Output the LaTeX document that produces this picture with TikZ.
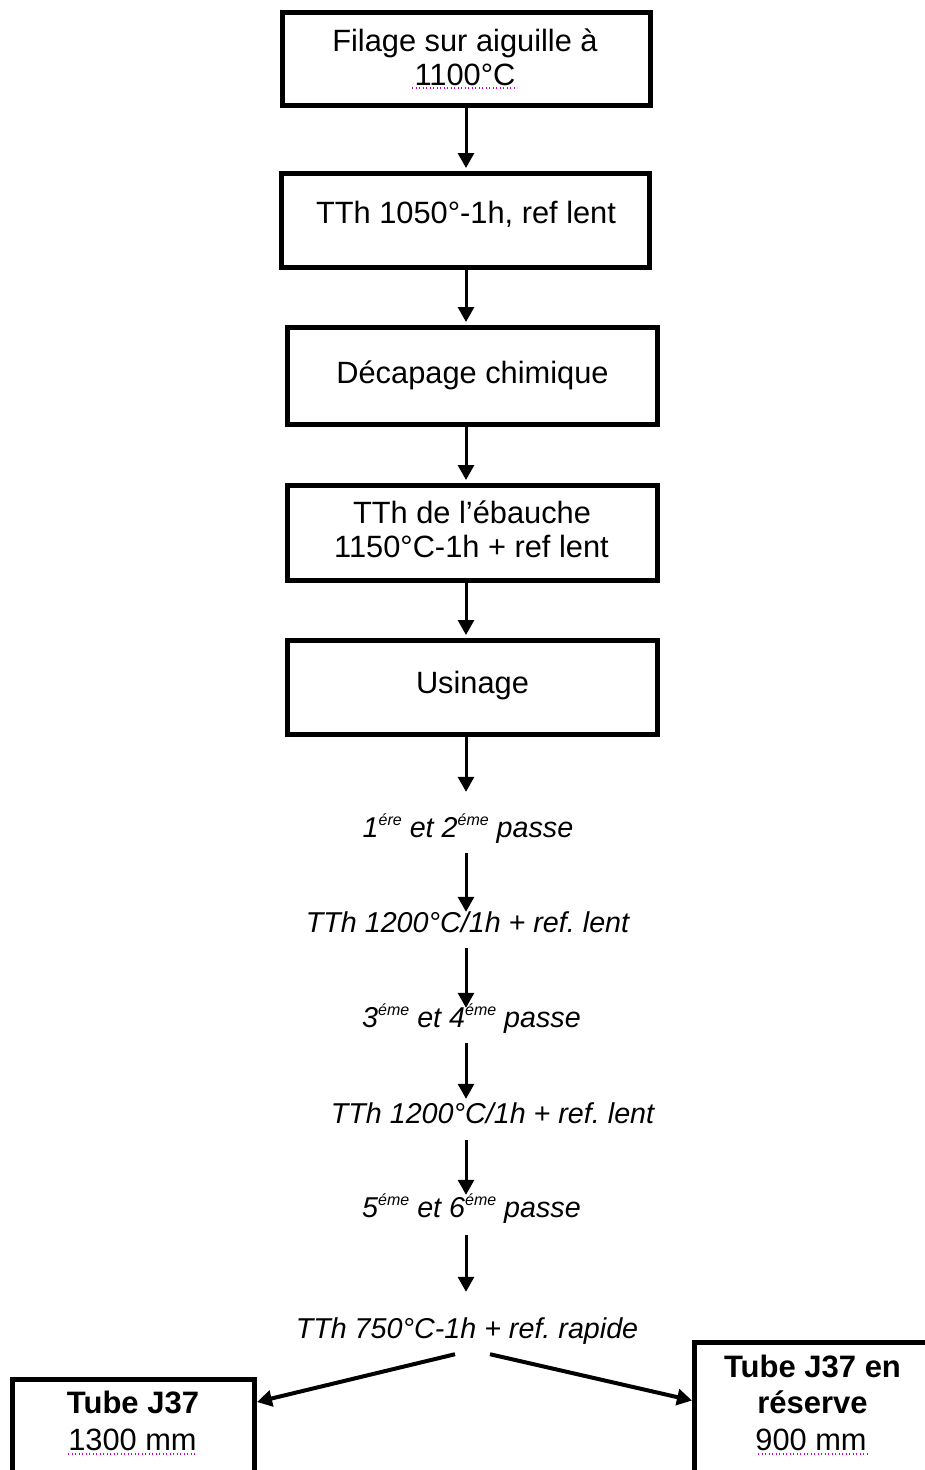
\documentclass[tikz,border=0pt]{standalone}
\usepackage{fontspec}
\setmainfont{Liberation Sans}
\usetikzlibrary{arrows.meta}
\definecolor{spellmark}{RGB}{200,0,200}
\newcommand\supx[1]{\raisebox{11.5pt}{\fontsize{16}{16}\selectfont #1}}
\tikzset{
  box/.style={draw, line width=5pt, inner sep=0pt, fill=white},
  boxtxt/.style={anchor=base, inner sep=0pt, font=\fontsize{30.8}{34}\selectfont},
  boldtxt/.style={anchor=base, inner sep=0pt, font=\fontsize{31}{35}\selectfont\bfseries},
  steptxt/.style={anchor=base, inner sep=0pt, text height=22pt, text depth=7pt, font=\fontsize{28.7}{32}\selectfont\itshape},
  arr/.style={line width=3pt, -{Triangle[width=16pt,length=15pt]}},
  darr/.style={line width=4pt, -{Triangle[width=16pt,length=15pt]}},
  spell/.style={spellmark, line width=1.3pt, dash pattern=on 1.3pt off 2.2pt}
}
\begin{document}
\frenchspacing
\begin{tikzpicture}[x=1pt,y=-1pt]
\useasboundingbox (0,0) rectangle (925,1470);
\clip (0,0) rectangle (925,1470);
\fill[white] (0,0) rectangle (925,1470);

% boxes
\node[box, minimum width=368pt, minimum height=93pt] (b1) at (466,59) {};
\node[box, minimum width=368pt, minimum height=94pt] (b2) at (465.5,220.5) {};
\node[box, minimum width=370pt, minimum height=97pt] (b3) at (472.5,376) {};
\node[box, minimum width=370pt, minimum height=95pt] (b4) at (472.5,533) {};
\node[box, minimum width=370pt, minimum height=94pt] (b5) at (472.5,687.5) {};
\node[box, minimum width=242pt, minimum height=140.5pt] (lb) at (133.5,1449.75) {};
\node[box, minimum width=265.5pt, minimum height=177.5pt] (rb) at (827.25,1431.25) {};

% box texts
\node[boxtxt] (b1t1) at (465,51) {Filage sur aiguille à};
\node[boxtxt] (b1t2) at (465,85) {1100°C};
\node[boxtxt] (b2t) at (466,223) {TTh 1050°-1h, ref lent};
\node[boxtxt] (b3t) at (472.5,383) {Décapage chimique};
\node[boxtxt] (b4t1) at (472,523) {TTh de l’ébauche};
\node[boxtxt] (b4t2) at (471.5,557) {1150°C-1h + ref lent};
\node[boxtxt] (b5t) at (472.5,693) {Usinage};
\node[boldtxt] (lbt1) at (133,1413) {Tube J37};
\node[boxtxt] (lbt2) at (132.5,1450) {1300 mm};
\node[boldtxt] (rbt1) at (812.5,1377) {Tube J37 en};
\node[boldtxt] (rbt2) at (812.5,1413) {réserve};
\node[boxtxt] (rbt3) at (811,1450) {900 mm};

% spell-check marks
\draw[spell] (412,88) -- (517,88);
\draw[spell] (68,1454) -- (197,1454);
\draw[spell] (758,1454) -- (868,1454);

% italic steps
\node[steptxt] (t1) at (468,837) {1\supx{ére} et 2\supx{éme} passe};
\node[steptxt] (t2) at (467.5,932) {TTh 1200°C/1h + ref. lent};
\node[steptxt] (t3) at (471.5,1027) {3\supx{éme} et 4\supx{éme} passe};
\node[steptxt] (t4) at (492.5,1123) {TTh 1200°C/1h + ref. lent};
\node[steptxt] (t5) at (471.5,1217) {5\supx{éme} et 6\supx{éme} passe};
\node[steptxt] (t6) at (467,1338) {TTh 750°C-1h + ref. rapide};

% arrows between boxes
\draw[arr, shorten >=3pt] (b1.south) -- (b1.south |- b2.north);
\draw[arr, shorten >=3pt] (b1.south |- b2.south) -- (b1.south |- b3.north);
\draw[arr, shorten >=3pt] (b1.south |- b3.south) -- (b1.south |- b4.north);
\draw[arr, shorten >=3pt] (b1.south |- b4.south) -- (b1.south |- b5.north);
\draw[arr, shorten >=23pt] (b1.south |- b5.south) -- (b1.south |- t1.north);
\draw[arr, shorten <=9pt, shorten >=-2pt] (b1.south |- t1.south) -- (b1.south |- t2.north);
\draw[arr, shorten <=9pt, shorten >=-3pt] (b1.south |- t2.south) -- (b1.south |- t3.north);
\draw[arr, shorten <=9pt, shorten >=2pt] (b1.south |- t3.south) -- (b1.south |- t4.north);
\draw[arr, shorten <=10pt, shorten >=0pt] (b1.south |- t4.south) -- (b1.south |- t5.north);
\draw[arr, shorten <=11pt, shorten >=24pt] (b1.south |- t5.south) -- (b1.south |- t6.north);

% split arrows
\draw[darr] ([xshift=-12pt,yshift=-9pt]t6.south) -- ([yshift=-25pt]lb.north east);
\draw[darr] ([xshift=23pt,yshift=-9pt]t6.south) -- ([yshift=-60.5pt]rb.north west);
\end{tikzpicture}
\end{document}
